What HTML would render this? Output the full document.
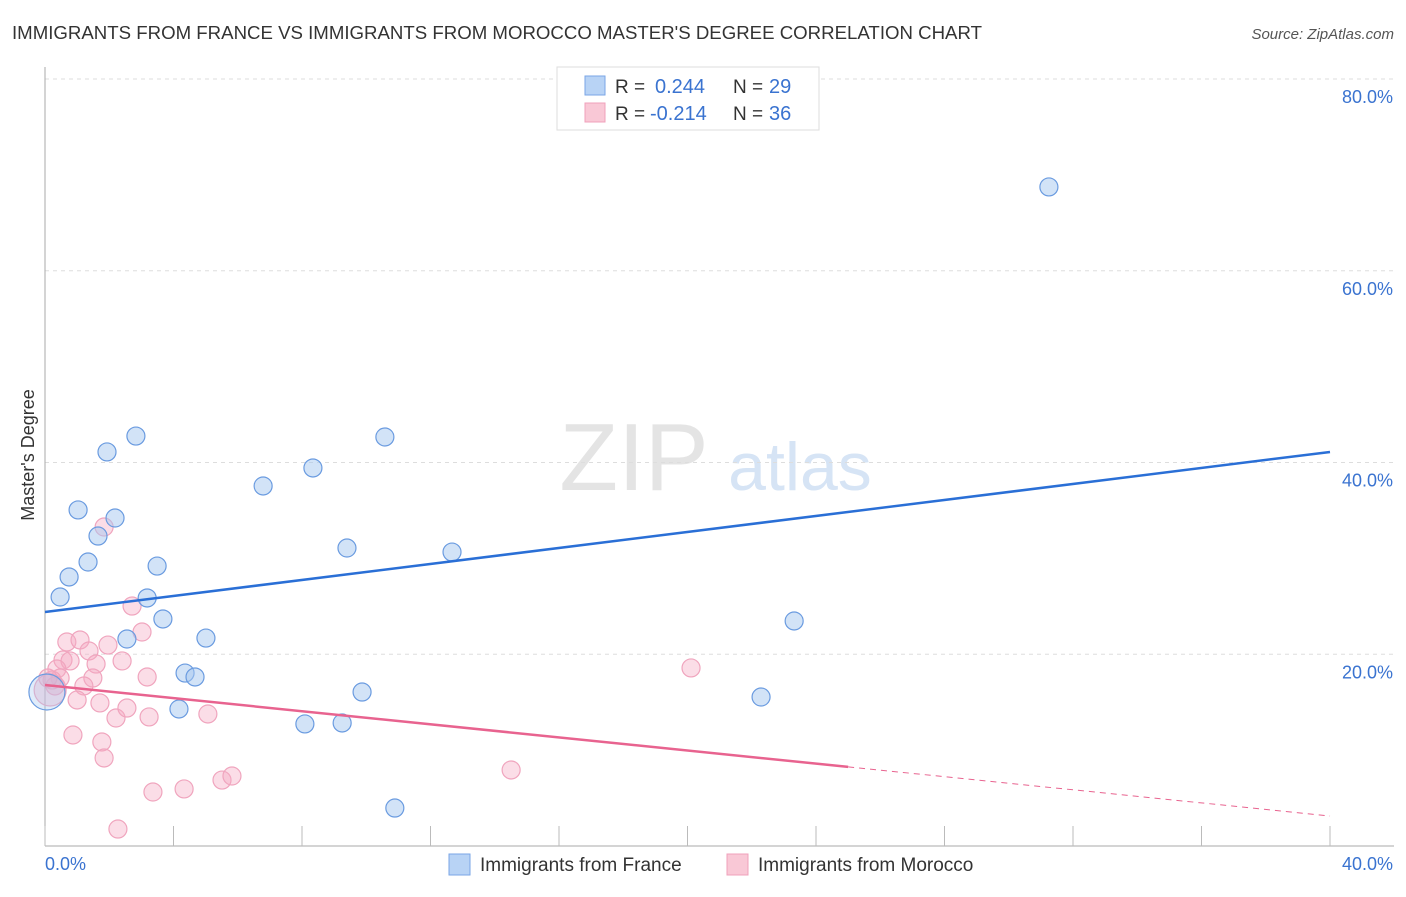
<!DOCTYPE html>
<html><head><meta charset="utf-8"><style>
body{margin:0;background:#fff;font-family:"Liberation Sans",sans-serif;}
svg text{font-family:"Liberation Sans",sans-serif;}
</style></head><body>
<svg id="chart" width="1406" height="892" viewBox="0 0 1406 892">
<text x="12" y="39" font-size="18.5" fill="#333" textLength="970" lengthAdjust="spacingAndGlyphs">IMMIGRANTS FROM FRANCE VS IMMIGRANTS FROM MOROCCO MASTER'S DEGREE CORRELATION CHART</text>
<text x="1394" y="39" font-size="15" fill="#555" font-style="italic" text-anchor="end">Source: ZipAtlas.com</text>
<text x="634" y="490" font-size="96" fill="#e4e4e4" font-family="Liberation Serif" text-anchor="middle">ZIP</text>
<text x="800" y="490" font-size="68" fill="#d6e4f5" text-anchor="middle">atlas</text>
<g id="grid"></g>
<g id="axes"></g>
<g id="marks"></g>
<text transform="translate(34,455) rotate(-90)" font-size="18" fill="#333" text-anchor="middle">Master's Degree</text>
<g>
<rect x="557" y="67" width="262" height="63" fill="#fff" stroke="#ddd"/>
<rect x="585" y="76" width="20" height="19" fill="#b8d3f5" stroke="#7aa6e6"/>
<text x="615" y="93" font-size="19" fill="#333">R = </text><text x="655" y="93" font-size="20" fill="#3a73d0">0.244</text>
<text x="733" y="93" font-size="19" fill="#333">N = </text><text x="769" y="93" font-size="20" fill="#3a73d0">29</text>
<rect x="585" y="103" width="20" height="19" fill="#f9c8d6" stroke="#f0a0bb"/>
<text x="615" y="120" font-size="19" fill="#333">R = </text><text x="650" y="120" font-size="20" fill="#3a73d0">-0.214</text>
<text x="733" y="120" font-size="19" fill="#333">N = </text><text x="769" y="120" font-size="20" fill="#3a73d0">36</text>
</g>
<g>
<rect x="449" y="854" width="21" height="21" fill="#b8d3f5" stroke="#7aa6e6"/>
<text x="480" y="871" font-size="19" fill="#333">Immigrants from France</text>
<rect x="727" y="854" width="21" height="21" fill="#f9c8d6" stroke="#f0a0bb"/>
<text x="758" y="871" font-size="19" fill="#333">Immigrants from Morocco</text>
</g>
</svg>
<script>
const yTicks=[20,40,60,80];
const xTickLabels=["0.0%","40.0%"];
const franceX=[31.25,1.93,2.83,10.58,8.34,6.79,1.03,2.18,1.65,1.34,9.40,12.67,3.49,0.75,0.47,3.18,3.67,23.32,2.55,5.01,4.36,4.67,9.87,22.29,4.17,8.09,9.25,10.89,0.06];
const franceY=[68.74,41.10,42.76,42.66,39.43,37.55,35.05,34.21,32.33,29.62,31.08,30.66,29.20,28.06,25.97,25.87,23.68,23.47,21.59,21.69,18.04,17.63,16.06,15.54,14.29,12.73,12.83,3.96,16.06];
const moroccoX=[1.84,2.71,3.02,0.68,1.09,1.96,1.37,0.56,0.78,1.59,2.40,0.37,1.49,0.47,3.18,0.22,1.21,0.31,1.00,1.71,2.21,2.55,3.24,5.07,0.87,1.77,1.84,3.36,4.33,5.51,5.82,2.27,20.11,14.51,0.16,0.09];
const moroccoY=[33.27,25.03,22.32,21.28,21.49,20.96,20.34,19.40,19.30,18.98,19.30,18.46,17.52,17.52,17.63,17.31,16.69,16.69,15.23,14.92,13.35,14.39,13.46,13.77,11.58,10.85,9.18,5.63,5.95,6.88,7.30,1.77,18.57,7.93,16.27,17.52];
const franceTrend=[24.41,41.10];
const moroccoTrend=[16.79,3.13];
const NS='http://www.w3.org/2000/svg';
const X=v=>45+v*32.125, Y=v=>846-v*9.5875;
function mk(tag,attrs,parent){const e=document.createElementNS(NS,tag);for(const k in attrs)e.setAttribute(k,attrs[k]);parent.appendChild(e);return e;}
const grid=document.getElementById('grid'),axes=document.getElementById('axes'),marks=document.getElementById('marks');
yTicks.forEach(t=>{
 const l=mk('line',{x1:45,x2:1394,y1:Y(t),y2:Y(t),stroke:'#ddd','stroke-dasharray':'4,4'},grid);
 
 
 const tx=mk('text',{x:1393,y:Y(t)+24,'font-size':18,fill:'#3a73d0','text-anchor':'end'},axes);
 tx.textContent=t.toFixed(1)+'%';
 
 
});
const ya=mk('line',{x1:45,x2:45,y1:67,y2:846,stroke:'#aaa'},axes);


const xa=mk('line',{x1:45,x2:1394,y1:846,y2:846,stroke:'#aaa'},axes);


for(let i=0;i<=10;i++){const tk=mk('line',{x1:X(i*4),x2:X(i*4),y1:826,y2:846,stroke:'#bbb'},axes);
 
 }
const xl0=mk('text',{x:45,y:870,'font-size':18,fill:'#3a73d0'},axes);xl0.textContent=xTickLabels[0];


const xl1=mk('text',{x:1393,y:870,'font-size':18,fill:'#3a73d0','text-anchor':'end'},axes);xl1.textContent=xTickLabels[1];


moroccoX.forEach((x,i)=>{const big=i===34;
 const c=mk('circle',{cx:X(x),cy:Y(moroccoY[i]),r:big?16:9,fill:'rgba(245,170,195,0.4)',stroke:'#f0a5be','stroke-width':1.2},marks);
 
 });
franceX.forEach((x,i)=>{const big=i===28;
 const c=mk('circle',{cx:X(x),cy:Y(franceY[i]),r:big?18:9,fill:big?'rgba(165,200,240,0.35)':'rgba(165,200,240,0.5)',stroke:'#6a9be0','stroke-width':1.2},marks);
 
 });
const bt=mk('line',{x1:X(0),y1:Y(franceTrend[0]),x2:X(40),y2:Y(franceTrend[1]),stroke:'#2a6fd6','stroke-width':2.5},marks);


const pm=v=>moroccoTrend[0]+(moroccoTrend[1]-moroccoTrend[0])*v/40;
const pt=mk('line',{x1:X(0),y1:Y(pm(0)),x2:X(25),y2:Y(pm(25)),stroke:'#e8638f','stroke-width':2.5},marks);


const pd=mk('line',{x1:X(25),y1:Y(pm(25)),x2:X(40),y2:Y(pm(40)),stroke:'#e8638f','stroke-width':1,'stroke-dasharray':'6,5'},marks);


</script>
</body></html>
